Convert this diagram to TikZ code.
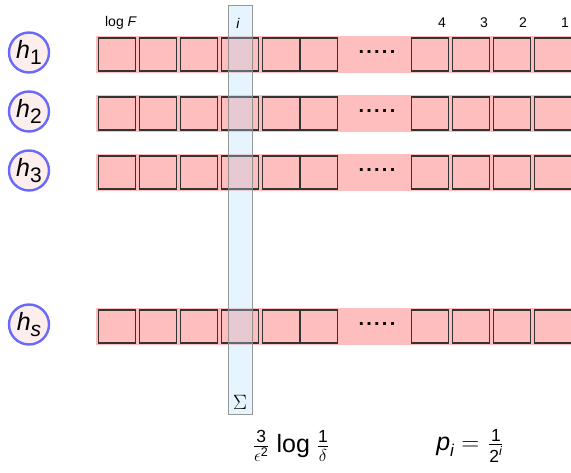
\documentclass[tikz,border=0pt]{standalone}
\usepackage{amsmath}
\usepackage{fontspec}
\setmainfont{Liberation Sans}
\begin{document}
\begin{tikzpicture}[x=1pt,y=-1pt,
  cellbox/.style={draw=black!80,line width=1.1pt,fill=cellpink,minimum width=37pt,minimum height=33pt,inner sep=0pt},
  hashnode/.style={circle,draw=hashblue,line width=2.4pt,fill=hashfill,minimum size=40pt,inner sep=0pt,font=\fontsize{25}{25}\selectfont},
  idxlabel/.style={font=\fontsize{14}{14}\selectfont,inner sep=0pt},
  dotsep/.style={font=\fontsize{20}{20}\selectfont\bfseries,inner sep=0pt}]
\definecolor{cellpink}{RGB}{255,190,190}
\definecolor{hashblue}{RGB}{105,105,250}
\definecolor{hashfill}{RGB}{253,238,238}
\definecolor{colblue}{RGB}{180,224,248}
\useasboundingbox (0,0) rectangle (571,473);

% one counter row per hash function
\foreach \r/\y/\lab in {1/54.5/1, 2/113.5/2, 3/172.5/3, 4/326.5/\textit{s}} {
  \fill[cellpink] (96,\y-18.5) rectangle (571,\y+18.5);
  \foreach \c/\x in {1/117,2/158,3/199,4/240,5/281,6/319,7/430,8/471,9/512,10/553} {
    \node[cellbox] (c\r-\c) at (\x,\y) {};
  }
  \node[dotsep] (d\r) at (377,\y-2) {.\hspace{2.2pt}.\hspace{2.2pt}.\hspace{2.2pt}.\hspace{2.2pt}.};
  \node[hashnode] (h\r) at (29,\y-2) {\textit{h}\raisebox{-0.4ex}{\fontsize{21}{21}\selectfont\lab}};
}

% the summed column i
\node[fill=colblue,fill opacity=0.33,draw=black!45,draw opacity=0.9,line width=1pt,
      minimum width=24pt,minimum height=409pt,inner sep=0pt] (col) at (240,210.5) {};
\node[inner sep=0pt,font=\fontsize{20}{20}\selectfont] (sum) at (240,402) {$\Sigma$};

% column labels
\node[idxlabel] (logF) at (121,23) {log \textit{F}};
\node[idxlabel] (li) at (238,23) {\textit{i}};
\node[idxlabel] (l4) at (442,23) {4};
\node[idxlabel] (l3) at (484,23) {3};
\node[idxlabel] (l2) at (523,23) {2};
\node[idxlabel] (l1) at (565,23) {1};

% bottom formulas
\node[inner sep=0pt,font=\fontsize{25}{25}\selectfont] (width) at (291,446)
  {$\frac{\text{3}}{\epsilon^{\text{2}}}$ log $\frac{\text{1}}{\delta}$};
\node[inner sep=0pt,font=\fontsize{25}{25}\selectfont] (prob) at (470,446)
  {\textit{p}\raisebox{-0.4ex}{\fontsize{17}{17}\selectfont\textit{i}}\hspace{7pt}{\fontsize{30}{30}\selectfont$=$}\hspace{9pt}$\frac{\text{1}}{\text{2}^{\textit{i}}}$};
\end{tikzpicture}
\end{document}
